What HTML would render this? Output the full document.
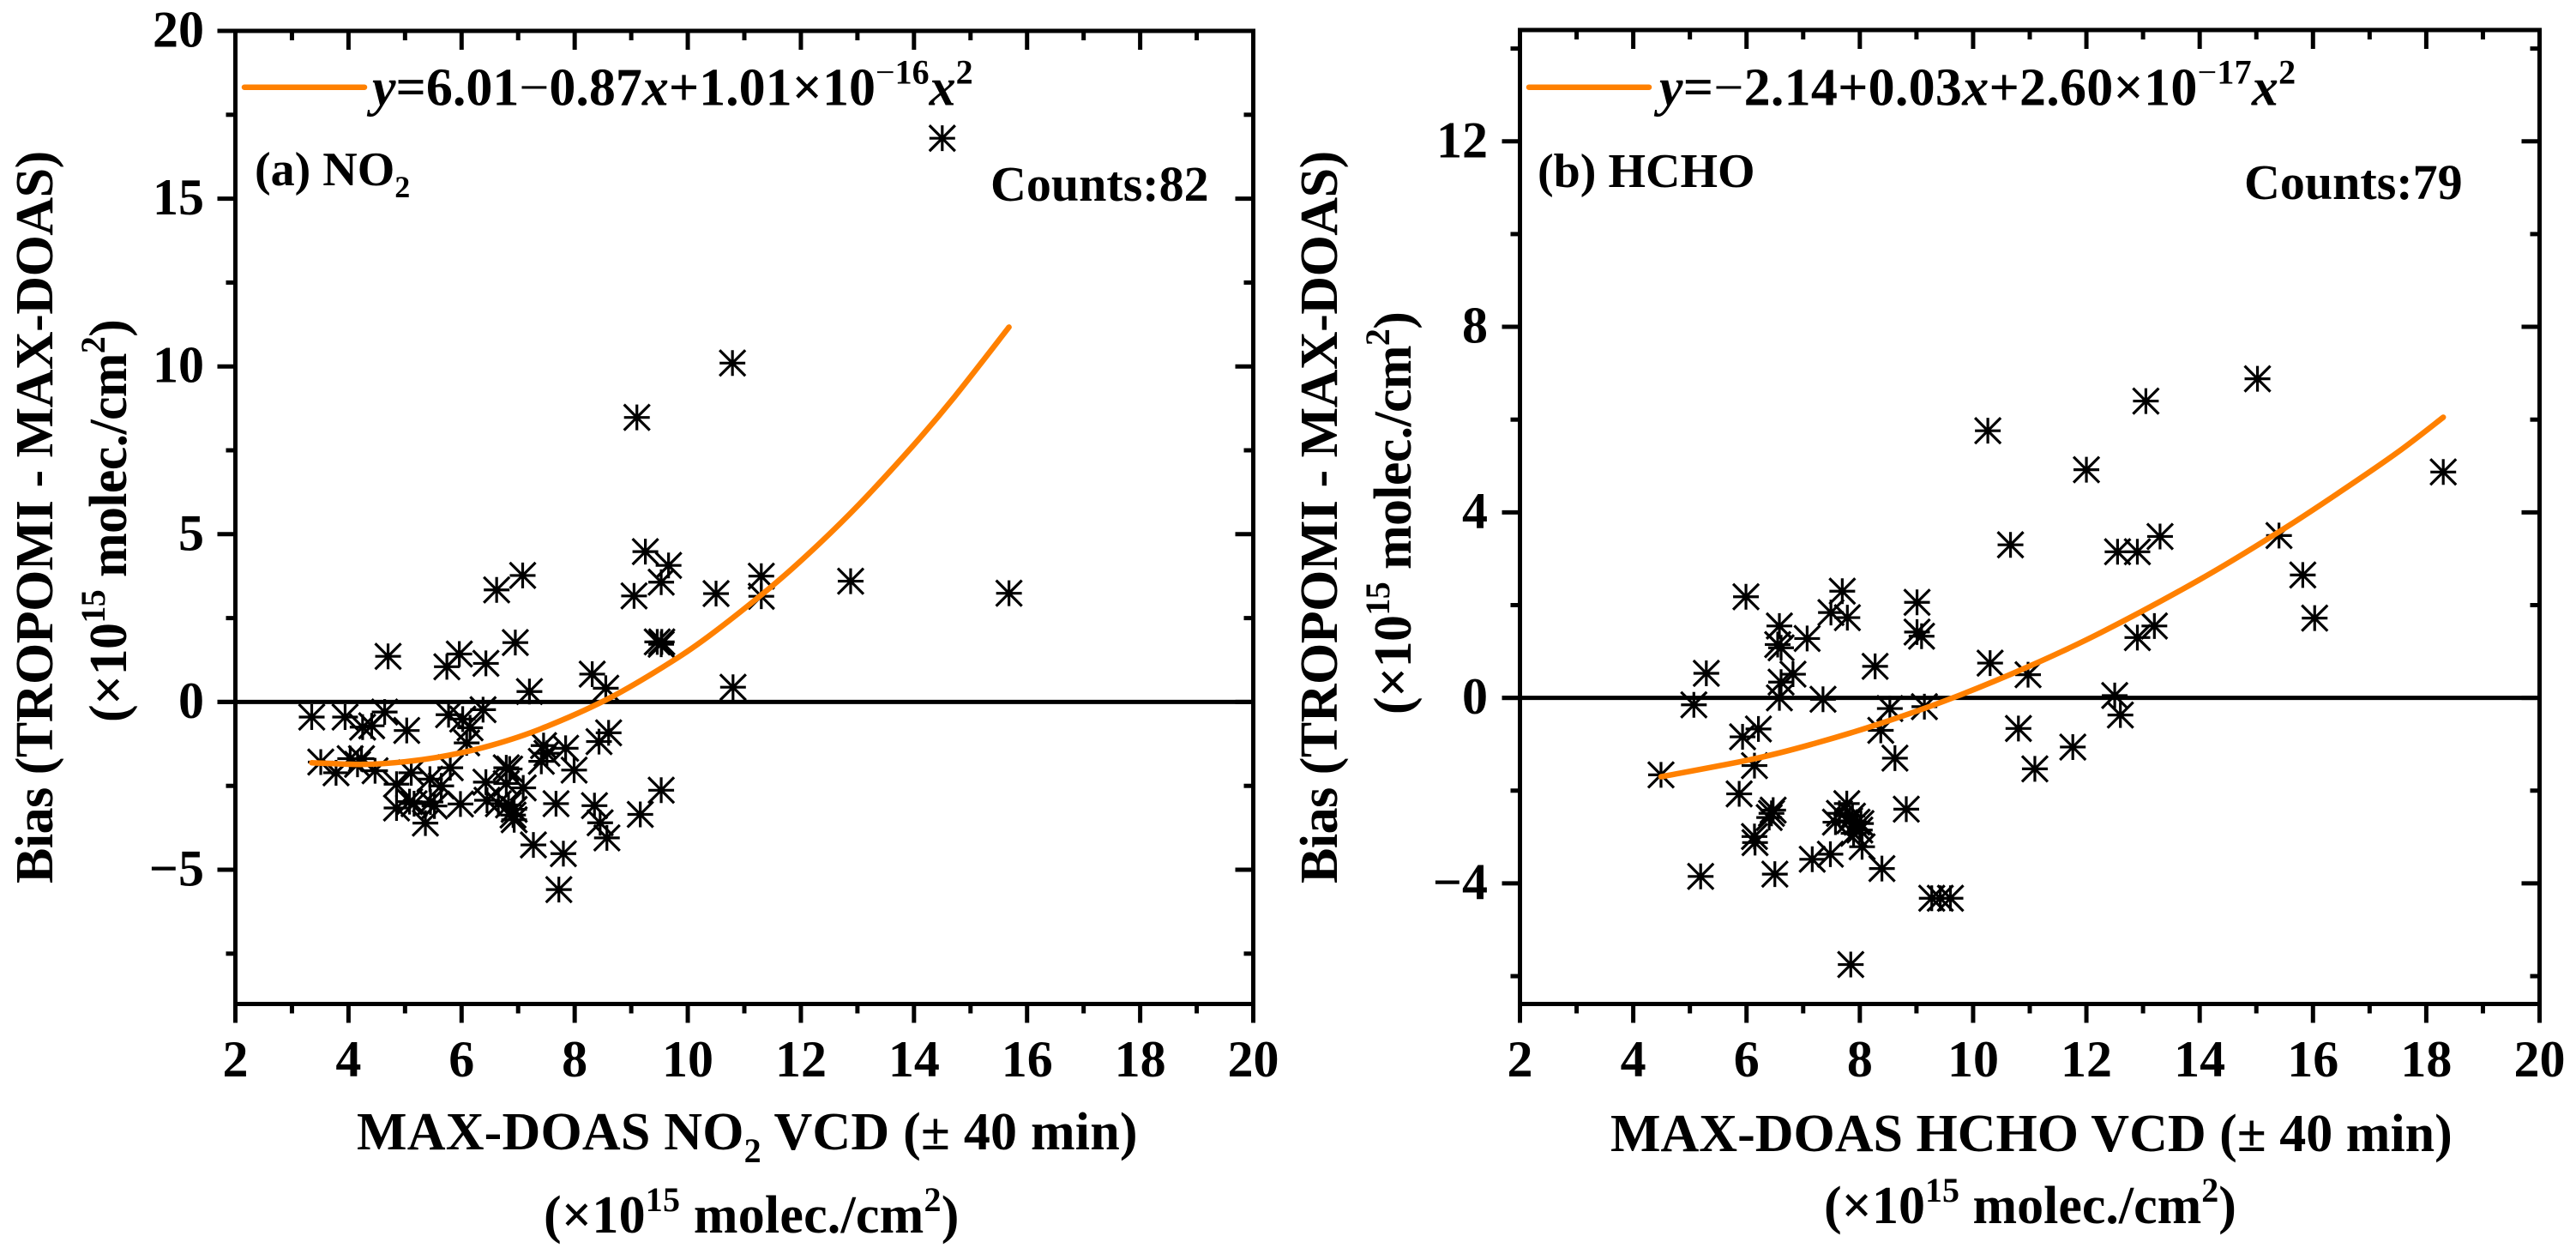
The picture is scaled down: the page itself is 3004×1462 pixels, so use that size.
<!DOCTYPE html>
<html lang="en">
<head>
<meta charset="utf-8">
<title>TROPOMI vs MAX-DOAS bias</title>
<style>
html,body{margin:0;padding:0;background:#fff}
svg{display:block}
text{font-family:"Liberation Serif",serif;font-weight:bold;fill:#000}
.tick-label{font-size:60px}
.title{font-size:62px}
.sup{font-size:40px}
.eq{font-size:62px}
.thin{font-weight:normal}
.ital{font-style:italic}
.panel{font-size:56px}
.counts{font-size:58px}
</style>
</head>
<body>
<svg id="chart" width="3004" height="1462" viewBox="0 0 3004 1462" xmlns="http://www.w3.org/2000/svg">
<rect x="0" y="0" width="3004" height="1462" fill="#fff"/>
<g id="panel-a"></g>
<g id="panel-b"></g>

<text class="panel" x="297" y="216">(a) NO<tspan font-size="36" dy="14">2</tspan></text>
<text class="counts" x="1155" y="234">Counts:82</text>
<text class="eq" x="434" y="122.5"><tspan class="ital">y</tspan>=6.01<tspan class="thin">−</tspan>0.87<tspan class="ital">x</tspan>+1.01×10<tspan class="sup" dy="-25"><tspan class="thin">−</tspan>16</tspan><tspan class="ital" dy="25">x</tspan><tspan class="sup" dy="-25">2</tspan></text>
<text class="title" letter-spacing="0.2" x="416" y="1340">MAX-DOAS NO<tspan class="sup" dy="15">2</tspan><tspan dy="-15"> VCD (± 40 min)</tspan></text>
<text class="title" letter-spacing="0.2" x="634" y="1437">(×10<tspan class="sup" dy="-25">15</tspan><tspan dy="25"> molec./cm</tspan><tspan class="sup" dy="-25">2</tspan><tspan dy="25">)</tspan></text>
<text class="title" letter-spacing="-0.5" transform="translate(61,1030) rotate(-90)" x="0" y="0">Bias (TROPOMI - MAX-DOAS)</text>
<text class="title" letter-spacing="-0.65" transform="translate(147,842) rotate(-90)" x="0" y="0">(×10<tspan class="sup" dy="-25">15</tspan><tspan dy="25"> molec./cm</tspan><tspan class="sup" dy="-25">2</tspan><tspan dy="25">)</tspan></text>

<text class="panel" x="1793" y="218">(b) HCHO</text>
<text class="counts" x="2617" y="232">Counts:79</text>
<text class="eq" letter-spacing="0.25" x="1935" y="122.5"><tspan class="ital">y</tspan>=<tspan class="thin">−</tspan>2.14+0.03<tspan class="ital">x</tspan>+2.60×10<tspan class="sup" dy="-25"><tspan class="thin">−</tspan>17</tspan><tspan class="ital" dy="25">x</tspan><tspan class="sup" dy="-25">2</tspan></text>
<text class="title" x="1878" y="1342">MAX-DOAS HCHO VCD (± 40 min)</text>
<text class="title" x="2127" y="1426">(×10<tspan class="sup" dy="-25">15</tspan><tspan dy="25"> molec./cm</tspan><tspan class="sup" dy="-25">2</tspan><tspan dy="25">)</tspan></text>
<text class="title" letter-spacing="-0.5" transform="translate(1559,1030) rotate(-90)" x="0" y="0">Bias (TROPOMI - MAX-DOAS)</text>
<text class="title" letter-spacing="-0.65" transform="translate(1645,833) rotate(-90)" x="0" y="0">(×10<tspan class="sup" dy="-25">15</tspan><tspan dy="25"> molec./cm</tspan><tspan class="sup" dy="-25">2</tspan><tspan dy="25">)</tspan></text>
</svg>

<script>
/* ---------- data ---------- */
const xMajorTicks = [2, 4, 6, 8, 10, 12, 14, 16, 18, 20];
const xMinorTicks = [3, 5, 7, 9, 11, 13, 15, 17, 19];

const no2YMajorTicks = [20, 15, 10, 5, 0, -5];
const no2YMinorTicks = [17.5, 12.5, 7.5, 2.5, -2.5, -7.5];
const hchoYMajorTicks = [12, 8, 4, 0, -4];
const hchoYMinorTicks = [14, 10, 6, 2, -2, -6];

const no2X = [14.5,15.68,12.88,10.79,9.1,9.25,9.66,9.53,9.05,10.5,11.3,11.3,7.08,6.62,6.95,6.43,7.2,8.31,8.55,10.8,9.46,9.54,9.53,8.6,8.43,9.53,9.16,8.35,8.45,8.57,7.67,7.99,7.84,7.45,7.51,7.41,7.09,6.79,6.43,6.79,6.38,3.35,3.94,4.64,4.25,4.41,5.03,3.51,3.78,4.03,4.23,4.16,4.47,4.85,4.85,5.08,5.16,5.36,5.45,5.52,5.11,5.44,5.64,5.8,5.98,6.45,6.83,6.93,6.91,6.93,6.65,7.27,5.77,6.02,6.15,6.09,7.8,7.72,5.74,5.96,4.7,6.85];
const no2Y = [16.8,3.24,3.6,10.1,8.48,4.48,4.07,3.57,3.16,3.23,3.75,3.15,3.77,3.34,1.77,1.15,0.31,0.83,0.41,0.44,1.79,1.79,1.72,-0.92,-1.18,-2.63,-3.35,-3.09,-3.6,-4.05,-3.03,-2.03,-1.38,-1.3,-1.53,-1.77,-2.56,-1.96,-2.39,-2.43,-0.23,-0.45,-0.45,-0.3,-0.75,-0.71,-0.85,-1.79,-2.11,-1.69,-1.69,-1.86,-2.05,-2.45,-3.16,-2.97,-3.03,-3.61,-2.98,-3.1,-2.11,-2.3,-2.5,-1.96,-3.04,-2.93,-3.07,-3.2,-3.37,-3.51,-3.03,-4.26,-0.38,-0.51,-0.77,-1.22,-4.52,-5.59,1.05,1.43,1.36,-2.0];
const no2FitX = [3.35,4.25,5.0,5.77,6.53,7.4,8.55,9.56,10.37,11.48,12.22,13.03,13.98,14.72,15.68];
const no2FitY = [-1.81,-1.86,-1.78,-1.59,-1.29,-0.8,0.06,1.04,1.96,3.44,4.55,5.89,7.63,9.1,11.17];

const hchoX = [5.99,5.29,5.07,6.58,6.61,6.55,7.07,7.49,7.69,7.78,6.82,6.61,6.58,7.35,8.27,6.21,5.93,6.14,4.49,5.87,8.37,10.66,9.01,9.01,9.09,10.3,10.97,8.53,9.14,8.62,8.82,10.8,11.76,11.09,9.27,9.6,9.42,7.84,8.39,6.44,6.4,6.14,6.15,5.19,6.5,7.16,7.48,7.77,7.64,7.57,7.95,8.02,7.89,8.04,7.82,10.26,13.05,15.02,18.3,12.0,12.55,12.9,13.3,15.4,15.82,16.03,12.9,13.2,12.5,12.6,6.47,7.87,8.0];
const hchoY = [2.18,0.53,-0.15,1.55,1.08,1.15,1.28,1.84,2.3,1.73,0.51,0.34,0.0,-0.03,0.68,-0.67,-0.84,-1.46,-1.66,-2.07,-0.7,3.3,2.06,1.42,1.33,0.75,0.5,-0.23,-0.19,-1.3,-2.4,-0.66,-1.06,-1.53,-4.32,-4.32,-4.32,-5.75,-3.68,-2.49,-2.58,-2.99,-3.12,-3.85,-3.8,-3.48,-3.37,-2.28,-2.49,-2.68,-2.68,-2.71,-2.92,-3.21,-2.65,5.76,6.4,6.88,4.87,4.92,3.15,3.15,3.48,3.5,2.65,1.72,1.3,1.55,0.05,-0.37,-2.42,-2.55,-2.85];
const hchoFitX = [4.49,6.15,7.21,8.37,9.64,10.97,12.26,14,15.4,16.5,17.5,18.3];
const hchoFitY = [-1.7,-1.31,-0.98,-0.55,0,0.67,1.41,2.55,3.58,4.46,5.3,6.05];

/* ---------- drawing ---------- */
const SVGNS = 'http://www.w3.org/2000/svg';
function make(parent, tag, attrs) {
  const el = document.createElementNS(SVGNS, tag);
  for (const k in attrs) el.setAttribute(k, attrs[k]);
  parent.appendChild(el);
  return el;
}
function fmt(v) { return v < 0 ? '−' + Math.abs(v) : String(v); }

function smoothPath(px, py) {
  let d = 'M' + px[0] + ' ' + py[0];
  for (let i = 0; i < px.length - 1; i++) {
    const i0 = Math.max(i - 1, 0), i3 = Math.min(i + 2, px.length - 1);
    const c1x = px[i] + (px[i + 1] - px[i0]) / 6, c1y = py[i] + (py[i + 1] - py[i0]) / 6;
    const c2x = px[i + 1] - (px[i3] - px[i]) / 6, c2y = py[i + 1] - (py[i3] - py[i]) / 6;
    d += 'C' + c1x + ' ' + c1y + ' ' + c2x + ' ' + c2y + ' ' + px[i + 1] + ' ' + py[i + 1];
  }
  return d;
}

function drawPanel(g, cfg) {
  const sx = v => cfg.left + (v - cfg.xMin) / (cfg.xMax - cfg.xMin) * (cfg.right - cfg.left);
  const sy = v => cfg.top + (cfg.yMax - v) / (cfg.yMax - cfg.yMin) * (cfg.bottom - cfg.top);
  const W = 5, MAJ = 21, MIN = 11;

  /* scatter */
  const pts = make(g, 'g', {});
  
  
  cfg.xs.forEach((xv, i) => {
    const cx = sx(xv), cy = sy(cfg.ys[i]), r = 15;
    const m = make(pts, 'path', {
      d: 'M' + (cx - r) + ' ' + cy + 'H' + (cx + r) +
         'M' + cx + ' ' + (cy - r) + 'V' + (cy + r) +
         'M' + (cx - r) + ' ' + (cy - r) + 'L' + (cx + r) + ' ' + (cy + r) +
         'M' + (cx - r) + ' ' + (cy + r) + 'L' + (cx + r) + ' ' + (cy - r),
      stroke: '#000', 'stroke-width': 3.2, fill: 'none'
    });
    
    
  });

  /* zero line */
  const zero = make(g, 'line', { x1: cfg.left - MAJ, x2: cfg.right, y1: sy(0), y2: sy(0), stroke: '#000', 'stroke-width': 5 });
  
  

  /* fit curve */
  const fit = make(g, 'path', {
    d: smoothPath(cfg.fitX.map(sx), cfg.fitY.map(sy)),
    stroke: '#FF8000', 'stroke-width': 6.5, fill: 'none', 'stroke-linecap': 'round', 'stroke-linejoin': 'round'
  });
  
  

  /* legend sample */
  const leg = make(g, 'line', { x1: cfg.legendX1, x2: cfg.legendX2, y1: 101.7, y2: 101.7, stroke: '#FF8000', 'stroke-width': 6.5, 'stroke-linecap': 'round' });
  
  

  /* frame */
  const frame = make(g, 'rect', { x: cfg.left, y: cfg.top, width: cfg.right - cfg.left, height: cfg.bottom - cfg.top, fill: 'none', stroke: '#000', 'stroke-width': W });
  
  

  /* ticks */
  const ticks = make(g, 'g', { stroke: '#000', 'stroke-width': 5 });
  
  
  function tick(x1, y1, x2, y2, name) {
    const t = make(ticks, 'line', { x1: x1, y1: y1, x2: x2, y2: y2 });
    
    
  }
  xMajorTicks.forEach(v => {
    const x = sx(v);
    tick(x, cfg.bottom, x, cfg.bottom + MAJ + 1, 'x-tick-major');
    tick(x, cfg.top, x, cfg.top + MAJ + 1, 'x-tick-major-top');
    const lab = make(g, 'text', { x: x, y: 1255, 'text-anchor': 'middle', class: 'tick-label' });
    lab.textContent = String(v);
    
    
  });
  xMinorTicks.forEach(v => {
    const x = sx(v);
    tick(x, cfg.bottom, x, cfg.bottom + MIN, 'x-tick-minor');
    tick(x, cfg.top, x, cfg.top + MIN, 'x-tick-minor-top');
  });
  cfg.yMajor.forEach(v => {
    const y = sy(v);
    tick(cfg.left - MAJ, y, cfg.left, y, 'y-tick-major');
    tick(cfg.right - MAJ, y, cfg.right, y, 'y-tick-major-right');
    const lab = make(g, 'text', { x: cfg.labelRight, y: y + 18.5, 'text-anchor': 'end', class: 'tick-label' });
    lab.textContent = fmt(v);
    
    
  });
  cfg.yMinor.forEach(v => {
    const y = sy(v);
    tick(cfg.left - MIN, y, cfg.left, y, 'y-tick-minor');
    tick(cfg.right - MIN, y, cfg.right, y, 'y-tick-minor-right');
  });
}

drawPanel(document.getElementById('panel-a'), {
  left: 274.5, right: 1461.5, top: 36, bottom: 1170.5,
  xMin: 2, xMax: 20, yMin: -9, yMax: 20,
  xs: no2X, ys: no2Y, fitX: no2FitX, fitY: no2FitY,
  yMajor: no2YMajorTicks, yMinor: no2YMinorTicks,
  labelRight: 238, legendX1: 285, legendX2: 425
});
drawPanel(document.getElementById('panel-b'), {
  left: 1772.5, right: 2961.5, top: 35, bottom: 1170.5,
  xMin: 2, xMax: 20, yMin: -6.6, yMax: 14.4,
  xs: hchoX, ys: hchoY, fitX: hchoFitX, fitY: hchoFitY,
  yMajor: hchoYMajorTicks, yMinor: hchoYMinorTicks,
  labelRight: 1735, legendX1: 1783, legendX2: 1923
});
</script>
</body>
</html>
